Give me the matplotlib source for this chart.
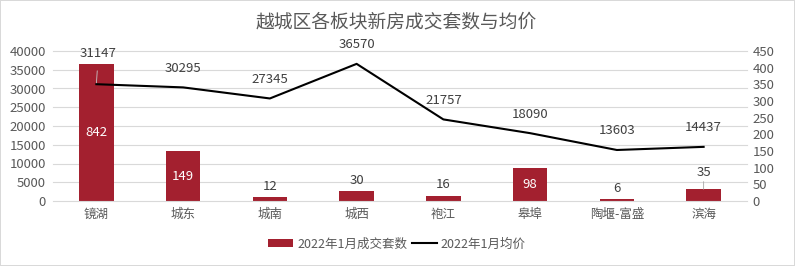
import matplotlib
matplotlib.use("Agg")
import matplotlib.pyplot as plt
import matplotlib.transforms as mtransforms
from matplotlib.patches import Patch, Rectangle
from matplotlib.lines import Line2D
import numpy as np

plt.rcParams['font.family'] = ['Noto Sans CJK SC', 'DejaVu Sans']

categories = ["镜湖", "城东", "城南", "城西", "袍江", "皋埠", "陶堰-富盛", "滨海"]
deals = [842, 149, 12, 30, 16, 98, 6, 35]
prices = [31147, 30295, 27345, 36570, 21757, 18090, 13603, 14437]
title = "越城区各板块新房成交套数与均价"
bar_label = "2022年1月成交套数"
line_label = "2022年1月均价"

BAR_COLOR = "#A3202F"
TEXT = "#595959"
GRID = "#D9D9D9"
BAR_VISIBLE_TOP = 410  # bars beyond the axis range are cut here, as in the reference

W, H = 795, 266
fig = plt.figure(figsize=(W / 100, H / 100), dpi=100, edgecolor=GRID, linewidth=1.2)

left, right, top, bottom = 53, 747, 51, 201
rect = [left / W, 1 - bottom / H, (right - left) / W, (bottom - top) / H]

ax_bar = fig.add_axes(rect)
ax_line = ax_bar.twinx()
ax_line.set_zorder(ax_bar.get_zorder() + 1)
ax_line.patch.set_visible(False)

x = np.arange(len(categories))

ax_bar.set_ylim(0, 450)
ax_bar.set_yticks(np.arange(0, 451, 50))
ax_bar.yaxis.tick_right()
ax_bar.set_xlim(-0.5, len(categories) - 0.5)

ax_line.set_ylim(0, 40000)
ax_line.set_yticks(np.arange(0, 40001, 5000))
ax_line.yaxis.tick_left()

trans = mtransforms.blended_transform_factory(ax_bar.transAxes, ax_line.transData)
for v in np.arange(5000, 40001, 5000):
    ax_bar.plot([0, 1], [v, v], transform=trans, color=GRID, lw=0.8, zorder=0.5, clip_on=False)

bars = ax_bar.bar(x, deals, width=0.40, color=BAR_COLOR, zorder=2)
clip = Rectangle((-0.5, 0), len(categories), BAR_VISIBLE_TOP, transform=ax_bar.transData)
for b in bars:
    b.set_clip_path(clip)

for xi, v in zip(x, deals):
    if v >= 90:
        ax_bar.text(xi, min(v, BAR_VISIBLE_TOP) / 2, str(v), ha='center', va='center', color='white', fontsize=9.5, zorder=3)
    elif xi == len(categories) - 1:
        ax_bar.annotate(str(v), xy=(xi, v), xytext=(0, 17), textcoords='offset pixels',
                        ha='center', va='center', color='#404040', fontsize=9.5,
                        arrowprops=dict(arrowstyle='-', color='#A6A6A6', lw=0.6, shrinkA=6, shrinkB=0))
    else:
        ax_bar.annotate(str(v), xy=(xi, v), xytext=(0, 11), textcoords='offset pixels',
                        ha='center', va='center', color='#404040', fontsize=9.5)

ax_line.plot(x, prices, color='black', lw=1.5, zorder=4)
for xi, v in zip(x, prices):
    if xi == 0:
        ax_line.annotate(str(v), xy=(xi, v), xytext=(2, 31), textcoords='offset pixels',
                         ha='center', va='center', color='#404040', fontsize=9.5,
                         arrowprops=dict(arrowstyle='-', color='#C8C8C8', lw=0.6, shrinkA=6, shrinkB=0))
    else:
        ax_line.annotate(str(v), xy=(xi, v), xytext=(0, 19), textcoords='offset pixels',
                         ha='center', va='center', color='#404040', fontsize=9.5)

for a in (ax_bar, ax_line):
    for s in a.spines.values():
        s.set_visible(False)
    a.tick_params(axis='both', length=0, colors=TEXT, labelsize=9.5)
ax_bar.spines['bottom'].set_visible(True)
ax_bar.spines['bottom'].set_color(GRID)
ax_bar.set_xticks(x)
ax_bar.set_xticklabels(categories, fontsize=9)
ax_bar.tick_params(axis='x', pad=5)
ax_bar.tick_params(axis='y', pad=4)
ax_line.tick_params(axis='y', pad=5)

fig.text(396 / W, 1 - 22 / H, title, ha='center', va='center', fontsize=13.5, color=TEXT)

handles = [Patch(facecolor=BAR_COLOR, edgecolor='none'), Line2D([], [], color='black', lw=1.5)]
fig.legend(handles, [bar_label, line_label], loc='center', bbox_to_anchor=(397 / W, 1 - 244 / H),
           ncol=2, frameon=False, fontsize=9, labelcolor=TEXT, handlelength=2.0, handleheight=0.6,
           handletextpad=0.3, columnspacing=0.4)

fig.savefig("out.png", dpi=100)
